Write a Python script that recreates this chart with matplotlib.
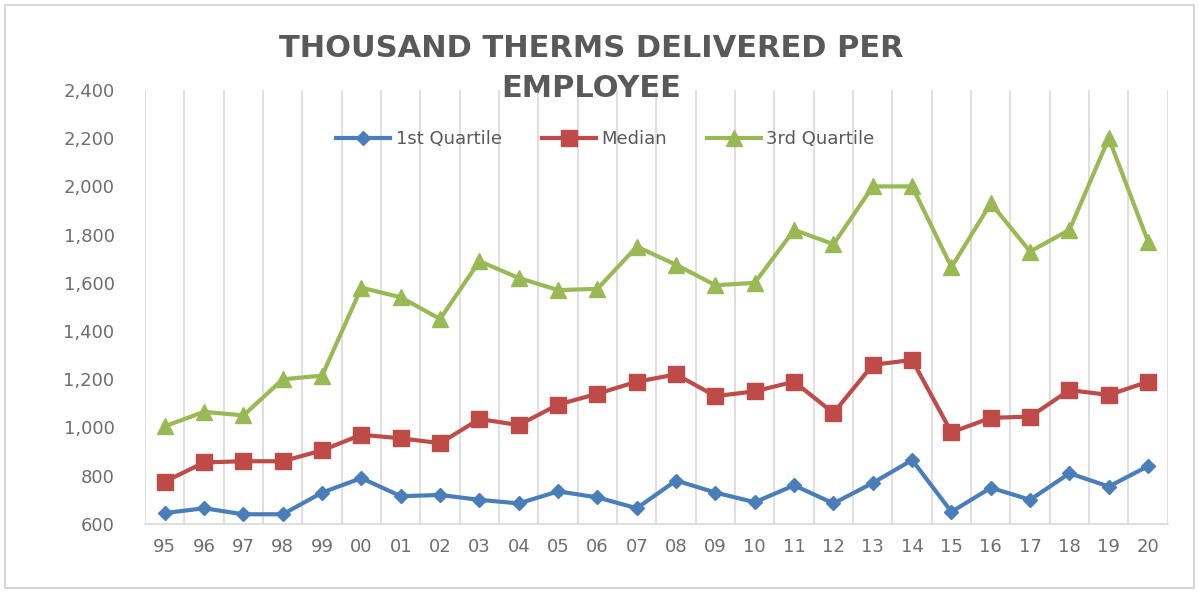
import matplotlib
matplotlib.use('Agg')
import matplotlib.pyplot as plt
from matplotlib.ticker import FuncFormatter, MultipleLocator
from matplotlib.patches import Rectangle

years = ['95', '96', '97', '98', '99', '00', '01', '02', '03', '04', '05', '06', '07',
         '08', '09', '10', '11', '12', '13', '14', '15', '16', '17', '18', '19', '20']

first_quartile = [645, 665, 640, 640, 730, 790, 715, 720, 700, 685, 735, 710, 665,
                  780, 730, 690, 760, 685, 770, 865, 650, 750, 700, 810, 755, 840]
median = [775, 855, 860, 860, 905, 970, 955, 935, 1035, 1010, 1095, 1140, 1190,
          1220, 1130, 1150, 1190, 1060, 1260, 1280, 980, 1040, 1045, 1155, 1135, 1190]
third_quartile = [1005, 1065, 1050, 1200, 1215, 1580, 1540, 1450, 1690, 1620, 1570, 1575, 1750,
                  1675, 1590, 1600, 1820, 1760, 2000, 2000, 1665, 1930, 1730, 1820, 2200, 1770]

title_color = '#595959'
label_color = '#6e6e6e'
grid_color = '#d9d9d9'

fig = plt.figure(figsize=(11.99, 5.92), dpi=100)
ax = fig.add_axes([0.121, 0.115, 0.853, 0.733])

# chart border
fig.patches.append(Rectangle((0.004, 0.006), 0.992, 0.986, transform=fig.transFigure,
                             fill=False, edgecolor='#d0d0d0', linewidth=1.2))

x = list(range(len(years)))
ax.plot(x, first_quartile, color='#4a7ebb', linewidth=3, marker='D', markersize=7.5,
        label='1st Quartile', zorder=3)
ax.plot(x, median, color='#be4b48', linewidth=3, marker='s', markersize=11,
        label='Median', zorder=3)
ax.plot(x, third_quartile, color='#98b954', linewidth=3, marker='^', markersize=12,
        label='3rd Quartile', zorder=3)

ax.set_xlim(-0.5, len(years) - 0.5)
ax.set_ylim(600, 2400)
ax.yaxis.set_major_locator(MultipleLocator(200))
ax.yaxis.set_major_formatter(FuncFormatter(lambda v, p: f'{int(v):,}'))

ax.set_xticks(x)
ax.set_xticklabels(years)
ax.set_xticks([i - 0.5 for i in range(len(years) + 1)], minor=True)
ax.grid(True, which='minor', axis='x', color=grid_color, linewidth=1.2)
ax.tick_params(axis='both', which='both', length=0, labelsize=13, labelcolor=label_color)
ax.tick_params(axis='x', pad=10)
ax.tick_params(axis='y', pad=22)

for side in ['top', 'right', 'left']:
    ax.spines[side].set_visible(False)
ax.spines['bottom'].set_color(grid_color)
ax.spines['bottom'].set_linewidth(1.2)

fig.text(0.493, 0.918, 'THOUSAND THERMS DELIVERED PER', ha='center', va='center',
         fontsize=22, fontweight='bold', color=title_color, family='DejaVu Sans')
fig.text(0.493, 0.85, 'EMPLOYEE', ha='center', va='center',
         fontsize=22, fontweight='bold', color=title_color, family='DejaVu Sans')

ax.legend(loc='upper center', bbox_to_anchor=(0.45, 0.945), ncol=3, frameon=False,
          fontsize=13, labelcolor=title_color, handlelength=3, columnspacing=2.2,
          handletextpad=0.3)

fig.savefig('out.png', dpi=100)
